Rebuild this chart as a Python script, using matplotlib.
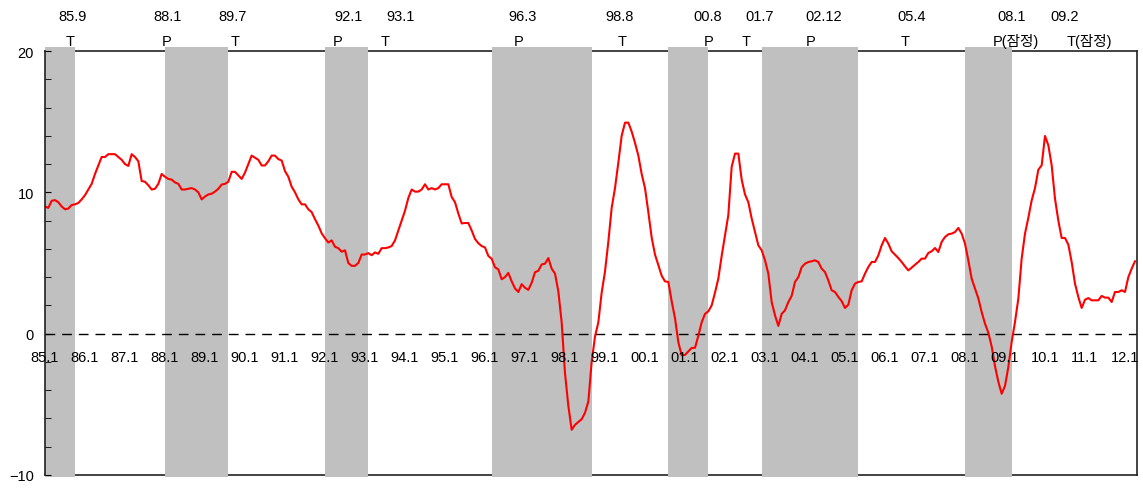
import numpy as np
import matplotlib
matplotlib.use('Agg')
import matplotlib.pyplot as plt

plt.rcParams['font.family'] = ['Liberation Sans', 'Noto Sans CJK KR']

# monthly series from 1985.1
start_year = 1985
values = [
    9.0, 8.9, 9.4, 9.45, 9.3, 9.0, 8.8, 8.85, 9.1, 9.15, 9.25, 9.5,             # 1985
    9.8, 10.2, 10.6, 11.3, 11.9, 12.5, 12.5, 12.7, 12.7, 12.7, 12.5, 12.3,      # 1986
    12.0, 11.87, 12.7, 12.5, 12.2, 10.8, 10.75, 10.5, 10.2, 10.25, 10.6, 11.3,  # 1987
    11.1, 10.95, 10.9, 10.7, 10.6, 10.2, 10.2, 10.25, 10.3, 10.2, 10.0, 9.5,    # 1988
    9.7, 9.85, 9.9, 10.05, 10.25, 10.55, 10.6, 10.75, 11.45, 11.45, 11.2, 10.95,  # 1989
    11.4, 12.0, 12.6, 12.45, 12.3, 11.9, 11.9, 12.2, 12.6, 12.6, 12.35, 12.25,  # 1990
    11.5, 11.1, 10.4, 10.0, 9.5, 9.15, 9.15, 8.8, 8.6, 8.1, 7.65, 7.1,          # 1991
    6.75, 6.45, 6.6, 6.15, 6.05, 5.8, 5.9, 5.0, 4.8, 4.8, 5.0, 5.6,             # 1992
    5.6, 5.7, 5.55, 5.75, 5.65, 6.05, 6.05, 6.1, 6.2, 6.6, 7.3, 8.0,            # 1993
    8.7, 9.6, 10.2, 10.05, 10.05, 10.2, 10.57, 10.2, 10.3, 10.2, 10.3, 10.57,   # 1994
    10.57, 10.57, 9.67, 9.3, 8.5, 7.8, 7.83, 7.83, 7.3, 6.7, 6.4, 6.2,          # 1995
    6.1, 5.5, 5.3, 4.7, 4.55, 3.85, 4.0, 4.3, 3.7, 3.2, 2.95, 3.5,              # 1996
    3.25, 3.1, 3.6, 4.35, 4.45, 4.9, 4.95, 5.35, 4.6, 4.25, 3.0, 0.8,           # 1997
    -2.8, -5.1, -6.8, -6.45, -6.25, -6.05, -5.6, -4.8, -2.0, -0.2, 0.8, 2.9,    # 1998
    4.4, 6.5, 8.9, 10.3, 12.1, 14.0, 14.93, 14.93, 14.3, 13.5, 12.6, 11.3,      # 1999
    10.3, 8.6, 6.8, 5.6, 4.85, 4.1, 3.7, 3.66, 2.3, 1.1, -0.6, -1.53,           # 2000
    -1.5, -1.25, -1.01, -1.0, -0.15, 0.8, 1.4, 1.58, 2.0, 2.9, 3.9, 5.5,        # 2001
    6.95, 8.4, 11.8, 12.74, 12.74, 10.9, 9.85, 9.3, 8.15, 7.2, 6.25, 5.9,       # 2002
    5.2, 4.25, 2.24, 1.3, 0.55, 1.4, 1.65, 2.24, 2.67, 3.66, 4.0, 4.7,          # 2003
    4.95, 5.07, 5.12, 5.19, 5.07, 4.6, 4.36, 3.77, 3.07, 2.95, 2.6, 2.3,        # 2004
    1.82, 2.05, 3.07, 3.54, 3.66, 3.7, 4.25, 4.72, 5.07, 5.07, 5.54, 6.25,      # 2005
    6.77, 6.37, 5.83, 5.59, 5.35, 5.07, 4.76, 4.48, 4.67, 4.88, 5.07, 5.31,     # 2006
    5.31, 5.71, 5.83, 6.06, 5.78, 6.49, 6.84, 7.03, 7.08, 7.19, 7.48, 7.08,     # 2007
    6.37, 5.19, 3.89, 3.2, 2.5, 1.53, 0.71, 0.07, -0.9, -2.3, -3.4, -4.25,      # 2008
    -3.7, -2.36, -0.59, 0.83, 2.48, 5.31, 7.08, 8.2, 9.43, 10.3, 11.6, 11.91,   # 2009
    13.99, 13.33, 11.91, 9.55, 8.0, 6.77, 6.77, 6.3, 5.07, 3.54, 2.59, 1.82,    # 2010
    2.4, 2.52, 2.36, 2.36, 2.36, 2.67, 2.55, 2.55, 2.24, 2.95, 2.95, 3.07,      # 2011
    2.95, 4.0, 4.6, 5.12,                                                       # 2012
]

# contraction phases (peak month, trough month)
phases = [((1985, 1), (1985, 9)), ((1988, 1), (1989, 7)), ((1992, 1), (1993, 1)),
          ((1996, 3), (1998, 8)), ((2000, 8), (2001, 7)), ((2002, 12), (2005, 4)),
          ((2008, 1), (2009, 2))]

# turning point labels above the frame
date_labels = ['85.9', '88.1', '89.7', '92.1', '93.1', '96.3', '98.8', '00.8', '01.7', '02.12', '05.4', '08.1', '09.2']
date_label_x = [85.70, 88.07, 89.70, 92.60, 93.90, 96.95, 99.37, 101.57, 102.87, 104.47, 106.67, 109.17, 110.50]
turn_labels = ['T', 'P', 'T', 'P', 'T', 'P', 'T', 'P', 'T', 'P', 'T', 'P(잠정)', 'T(잠정)']
turn_label_x = [85.62, 88.05, 89.75, 92.32, 93.50, 96.85, 99.42, 101.60, 102.52, 104.15, 106.50, 109.27, 111.10]

tick_years = list(range(1985, 2013))
tick_labels = [f'{y % 100:02d}.1' for y in tick_years]


def main():
    x = start_year + np.arange(len(values)) / 12
    fig = plt.figure(figsize=(11.43, 4.89), dpi=100)
    ax = fig.add_axes([45 / 1143, 13 / 489, 1092 / 1143, 424 / 489])

    for (py, pm), (ty, tm) in phases:
        ax.axvspan(py + (pm - 1) / 12, ty + tm / 12, ymin=-0.004, ymax=1.01,
                   color='#c0c0c0', lw=0, zorder=1, clip_on=False)

    ax.axhline(0, color='black', lw=1, ls=(0, (7, 5)), zorder=4)
    ax.plot(x, values, color='red', lw=1.5, zorder=5)

    ax.set_xlim(start_year, start_year + 327.6 / 12)
    ax.set_ylim(-10, 20)
    ax.set_xticks([])
    ax.set_yticks([-10, 0, 10, 20], ['\u221210', '0', '10', '20'])
    ax.set_yticks(np.arange(-10, 21, 2), minor=True)
    ax.tick_params(axis='y', which='both', direction='in', labelsize=10.5, pad=8)
    ax.tick_params(axis='y', which='major', length=4)
    ax.tick_params(axis='y', which='minor', length=4)
    ax.yaxis.set_zorder(6)
    for s in ['top', 'bottom']:
        ax.spines[s].set_zorder(0.5)
    for s in ['left', 'right']:
        ax.spines[s].set_zorder(6)
    for s in ax.spines.values():
        s.set_linewidth(1.2)
        s.set_color('#222222')

    # x labels sit on the zero line
    sec = ax.secondary_xaxis(1 / 3)
    sec.set_xticks(tick_years, tick_labels)
    sec.set_xticks(tick_years[2::2], minor=True)
    sec.tick_params(which='major', length=0, pad=12, labelsize=10.5)
    sec.tick_params(which='minor', direction='in', length=4)
    for s in sec.spines.values():
        s.set_visible(False)
    sec.set_zorder(7)

    tr = ax.get_xaxis_transform()
    for lab, xp in zip(date_labels, date_label_x):
        ax.text(xp + 1900, 1.083, lab, transform=tr, ha='center', va='center', fontsize=10.5)
    for lab, xp in zip(turn_labels, turn_label_x):
        ax.text(xp + 1900, 1.024, lab, transform=tr, ha='center', va='center', fontsize=10.5)

    fig.savefig('out.png', dpi=100)


if __name__ == '__main__':
    main()
